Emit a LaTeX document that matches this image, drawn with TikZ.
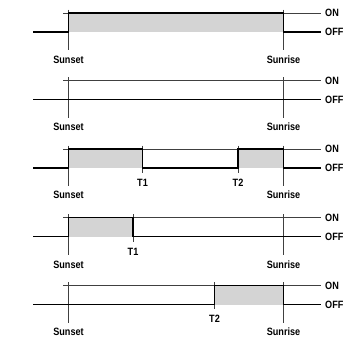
\documentclass[tikz,border=0pt]{standalone}
\usepackage{fontspec}
\newfontfamily\lblfont[FakeStretch=0.86]{Liberation Sans}
\usetikzlibrary{calc}
\tikzset{
  onoff/.style={line width=1.7pt},
  thinline/.style={line width=0.7pt, black!75},
  shade/.style={fill=black!17},
  lbl/.style={font=\lblfont\bfseries\fontsize{10.6}{11}\selectfont, inner sep=0pt}
}

\begin{document}
\begin{tikzpicture}[x=1pt,y=-1pt]
    \useasboundingbox (0,0) rectangle (354,338);

    % Panel 1: ON from Sunset to Sunrise
    \fill[shade] (68.5,13) rectangle (283.5,32);
    \draw[thinline] (63,13) -- (321,13);
    \draw[thinline] (68.5,9.5) -- (68.5,50);
    \draw[thinline] (283.5,9.5) -- (283.5,50);
    \draw[onoff] (33,32) -- (68.5,32) -- (68.5,13) -- (283.5,13) -- (283.5,32) -- (321,32);
    \node[lbl, anchor=west] (on1) at (325,13) {ON};
    \node[lbl, anchor=west] (off1) at (325,32) {OFF};
    \node[lbl] (sunset1) at (68.5,59.7) {Sunset};
    \node[lbl] (sunrise1) at (283.5,59.7) {Sunrise};

    % Panel 2: always OFF
    \draw[thinline] (63,80.5) -- (321,80.5);
    \draw[thinline] (68.5,77) -- (68.5,117.5);
    \draw[thinline] (283.5,77) -- (283.5,117.5);
    \draw[onoff] (33,99.5) -- (321,99.5);
    \node[lbl, anchor=west] (on2) at (325,80.5) {ON};
    \node[lbl, anchor=west] (off2) at (325,99.5) {OFF};
    \node[lbl] (sunset2) at (68.5,127.2) {Sunset};
    \node[lbl] (sunrise2) at (283.5,127.2) {Sunrise};

    % Panel 3: ON Sunset to T1, and T2 to Sunrise
    \fill[shade] (68.5,149) rectangle (142.5,168);
    \fill[shade] (238,149) rectangle (283.5,168);
    \draw[thinline] (63,149) -- (321,149);
    \draw[thinline] (68.5,145.5) -- (68.5,186);
    \draw[thinline] (283.5,145.5) -- (283.5,186);
    \draw[thinline] (142.5,145.5) -- (142.5,173);
    \draw[thinline] (238,145.5) -- (238,173);
    \draw[onoff] (33,168) -- (68.5,168) -- (68.5,149) -- (142.5,149) -- (142.5,168)
        -- (238,168) -- (238,149) -- (283.5,149) -- (283.5,168) -- (321,168);
    \node[lbl, anchor=west] (on3) at (325,149) {ON};
    \node[lbl, anchor=west] (off3) at (325,168) {OFF};
    \node[lbl] (t13) at (142.5,183) {T1};
    \node[lbl] (t23) at (238,183) {T2};
    \node[lbl] (sunset3) at (68.5,195) {Sunset};
    \node[lbl] (sunrise3) at (283.5,195) {Sunrise};

    % Panel 4: ON Sunset to T1
    \fill[shade] (68.5,217.5) rectangle (133,236.5);
    \draw[thinline] (63,217.5) -- (321,217.5);
    \draw[thinline] (68.5,214) -- (68.5,254.5);
    \draw[thinline] (283.5,214) -- (283.5,254.5);
    \draw[thinline] (133,214) -- (133,242);
    \draw[onoff] (33,236.5) -- (68.5,236.5) -- (68.5,217.5) -- (133,217.5) -- (133,236.5) -- (321,236.5);
    \node[lbl, anchor=west] (on4) at (325,217.5) {ON};
    \node[lbl, anchor=west] (off4) at (325,236.5) {OFF};
    \node[lbl] (t14) at (133,252) {T1};
    \node[lbl] (sunset4) at (68.5,264.5) {Sunset};
    \node[lbl] (sunrise4) at (283.5,264.5) {Sunrise};

    % Panel 5: ON T2 to Sunrise
    \fill[shade] (214.5,285.5) rectangle (283.5,304.5);
    \draw[thinline] (63,285.5) -- (321,285.5);
    \draw[thinline] (68.5,282) -- (68.5,322.5);
    \draw[thinline] (283.5,282) -- (283.5,322.5);
    \draw[thinline] (214.5,282) -- (214.5,309);
    \draw[onoff] (33,304.5) -- (214.5,304.5) -- (214.5,285.5) -- (283.5,285.5) -- (283.5,304.5) -- (321,304.5);
    \node[lbl, anchor=west] (on5) at (325,285.5) {ON};
    \node[lbl, anchor=west] (off5) at (325,304.5) {OFF};
    \node[lbl] (t25) at (214.5,318.5) {T2};
    \node[lbl] (sunset5) at (68.5,332) {Sunset};
    \node[lbl] (sunrise5) at (283.5,332) {Sunrise};
\end{tikzpicture}
\end{document}
